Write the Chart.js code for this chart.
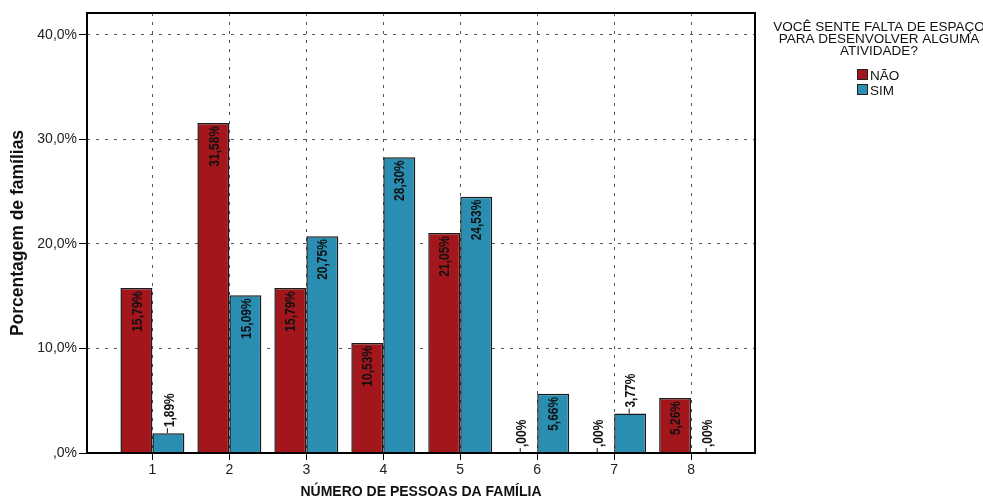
<!DOCTYPE html>
<html>
<head>
<meta charset="utf-8">
<script src="https://cdn.jsdelivr.net/npm/chart.js@4.4.1/dist/chart.umd.min.js"></script>
<style>
  html, body { margin: 0; padding: 0; background: #ffffff; }
  #wrap { width: 983px; height: 499px; position: relative; }
</style>
</head>
<body>
<div id="wrap"><canvas id="c" width="983" height="499"></canvas></div>
<script>
// Family sizes on the x axis and the share of families in each answer group
const familySizes = [1, 2, 3, 4, 5, 6, 7, 8];
const naoValues = [15.79, 31.58, 15.79, 10.53, 21.05, 0, 0, 5.26];
const simValues = [1.89, 15.09, 20.75, 28.30, 24.53, 5.66, 3.77, 0];
const seriesNames = ['NÃO', 'SIM'];
const yTicks = [0, 10, 20, 30, 40];
const yTickLabels = [',0%', '10,0%', '20,0%', '30,0%', '40,0%'];
const legendTitle = ['VOCÊ SENTE FALTA DE ESPAÇO', 'PARA DESENVOLVER ALGUMA', 'ATIVIDADE?'];
const xTitle = 'NÚMERO DE PESSOAS DA FAMÍLIA';
const yTitle = 'Porcentagem de famílias';

const RED = '#A3171C';
const BLUE = '#2A8DB2';
const EDGE = '#1a1a1a';

// "15,79%" style, with the leading zero dropped (",00%")
function fmtPct(v) {
  let s = v.toFixed(2).replace('.', ',');
  if (s.startsWith('0,')) s = s.slice(1);
  return s + '%';
}

const toPoints = vals => vals.map((v, i) => ({ x: familySizes[i], y: v }));

// Black box around the plotting area
const framePlugin = {
  id: 'frame',
  afterDatasetsDraw(chart) {
    const { ctx, chartArea: a } = chart;
    ctx.save();
    ctx.strokeStyle = '#000';
    ctx.lineWidth = 2;
    ctx.strokeRect(a.left, a.top, a.right - a.left, a.bottom - a.top);
    ctx.restore();
  }
};

// Rotated value labels: inside the bar top when it fits, otherwise above with a short leader
const LABEL_SQUEEZE = 0.8;
const valueLabelPlugin = {
  id: 'valueLabels',
  afterDatasetsDraw(chart) {
    const ctx = chart.ctx;
    ctx.save();
    ctx.font = 'bold 15px "Liberation Sans", Arial, sans-serif';
    ctx.fillStyle = '#111';
    ctx.strokeStyle = '#111';
    ctx.lineWidth = 1;
    ctx.textBaseline = 'middle';
    chart.data.datasets.forEach((ds, di) => {
      const meta = chart.getDatasetMeta(di);
      meta.data.forEach((bar, i) => {
        const v = ds.data[i].y;
        const text = fmtPct(v);
        const w = ctx.measureText(text).width * LABEL_SQUEEZE;
        const h = bar.base - bar.y;
        ctx.save();
        ctx.translate(bar.x, bar.y);
        ctx.rotate(-Math.PI / 2);
        if (h > w + 8) {
          ctx.scale(LABEL_SQUEEZE, 1);
          ctx.textAlign = 'right';
          ctx.fillText(text, -3 / LABEL_SQUEEZE, 1);
        } else {
          ctx.beginPath();
          ctx.moveTo(0, -1);
          ctx.lineTo(5, -1);
          ctx.stroke();
          ctx.scale(LABEL_SQUEEZE, 1);
          ctx.textAlign = 'left';
          ctx.fillText(text, 6 / LABEL_SQUEEZE, 1);
        }
        ctx.restore();
      });
    });
    ctx.restore();
  }
};

// Legend block on the right: three-line title and two swatches
const legendPlugin = {
  id: 'sideLegend',
  afterDraw(chart) {
    const ctx = chart.ctx;
    ctx.save();
    ctx.font = '13.5px "Liberation Sans", Arial, sans-serif';
    ctx.fillStyle = '#111';
    ctx.textAlign = 'center';
    ctx.textBaseline = 'alphabetic';
    legendTitle.forEach((line, k) => ctx.fillText(line, 879, 31 + k * 12));
    ctx.textAlign = 'left';
    chart.data.datasets.forEach((ds, k) => {
      const y = 69 + k * 15;
      ctx.fillStyle = ds.backgroundColor;
      ctx.fillRect(857, y, 11, 11);
      ctx.strokeStyle = '#222';
      ctx.lineWidth = 1;
      ctx.strokeRect(857.5, y + 0.5, 10, 10);
      ctx.fillStyle = '#111';
      ctx.fillText(ds.label, 870, y + 11);
    });
    ctx.restore();
  }
};

new Chart(document.getElementById('c'), {
  type: 'bar',
  data: {
    datasets: [
      { label: seriesNames[0], data: toPoints(naoValues), backgroundColor: RED, borderColor: EDGE, borderWidth: 1.5 },
      { label: seriesNames[1], data: toPoints(simValues), backgroundColor: BLUE, borderColor: EDGE, borderWidth: 1.5 }
    ]
  },
  options: {
    responsive: false,
    animation: false,
    layout: { padding: { top: 13, right: 228, left: 0, bottom: 0 } },
    datasets: { bar: { categoryPercentage: 0.831, barPercentage: 1.0 } },
    plugins: { legend: { display: false }, tooltip: { enabled: false } },
    scales: {
      x: {
        type: 'linear',
        offset: false,
        min: 0.15,
        max: 8.83,
        afterBuildTicks: s => { s.ticks = familySizes.map(v => ({ value: v })); },
        afterFit: s => { s.height = 46; },
        ticks: {
          autoSkip: false, maxRotation: 0, padding: 2,
          color: '#222',
          font: { family: '"Liberation Sans", Arial, sans-serif', size: 14 },
          callback: v => String(v)
        },
        grid: {
          offset: false,
          color: '#555', lineWidth: 1, tickLength: 7,
          tickColor: '#000', tickWidth: 1, tickBorderDash: []
        },
        border: { display: false, dash: [3, 6] },
        title: {
          display: true, text: xTitle, color: '#111',
          font: { family: '"Liberation Sans", Arial, sans-serif', size: 14, weight: 'bold' },
          padding: { top: 0, bottom: -2 }
        }
      },
      y: {
        min: 0,
        max: 42.1,
        afterBuildTicks: s => { s.ticks = yTicks.map(v => ({ value: v })); },
        afterFit: s => { s.width = 87; },
        ticks: {
          padding: 2, color: '#222',
          font: { family: '"Liberation Sans", Arial, sans-serif', size: 14 },
          callback: v => yTickLabels[yTicks.indexOf(v)]
        },
        grid: {
          color: '#555', lineWidth: 1, tickLength: 8,
          tickColor: '#000', tickWidth: 1, tickBorderDash: []
        },
        border: { display: false, dash: [3, 6] },
        title: {
          display: true, text: yTitle, color: '#111',
          font: { family: '"Liberation Sans", Arial, sans-serif', size: 17.5, weight: 'bold' },
          padding: { top: 8, bottom: 0 }
        }
      }
    }
  },
  plugins: [framePlugin, valueLabelPlugin, legendPlugin]
});
</script>
</body>
</html>
